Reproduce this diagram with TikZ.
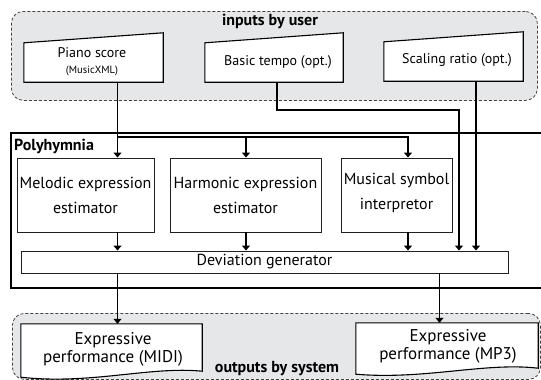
\documentclass[tikz,border=0pt]{standalone}
\usepackage{fontspec}
\setmainfont{PT Sans}
\usetikzlibrary{arrows.meta,calc}
\definecolor{zone}{RGB}{230,231,232}
\definecolor{ink}{RGB}{35,31,32}
\begin{document}
\begin{tikzpicture}[x=1pt,y=-1pt,
  zonebox/.style={draw=ink!85,fill=zone,dash pattern=on 3pt off 2pt,line width=0.8pt,rounded corners=12pt,inner sep=0pt},
  procbox/.style={draw=ink,line width=0.9pt,align=center,inner sep=0pt,font=\fontsize{16}{25}\selectfont},
  shapebox/.style={inner sep=0pt},
  inshape/.style={draw=black,fill=white,line width=1.1pt},
  intext/.style={inner sep=0pt,font=\fontsize{14}{16}\selectfont},
  smalltext/.style={inner sep=0pt,font=\fontsize{10.5}{11}\selectfont},
  outtext/.style={inner sep=0pt,align=center,font=\fontsize{17}{18}\selectfont},
  boldlbl/.style={inner sep=0pt,font=\bfseries\fontsize{16}{18}\selectfont},
  wire/.style={line width=1.1pt,draw=black},
  arr/.style={wire,-{Triangle[width=8pt,length=5pt]}},
]
\useasboundingbox (0,0) rectangle (541,380);

% column and turn coordinates
\coordinate (colA) at (117.5,0);
\coordinate (colB) at (246,0);
\coordinate (colC) at (408,0);
\coordinate (colT) at (277,0);
\coordinate (colD) at (459,0);
\coordinate (colE) at (476,0);
\coordinate (colF) at (439.5,0);
\coordinate (turn) at (0,110);
\coordinate (splitrow) at (0,137);

% input zone
\node[zonebox,anchor=north west,minimum width=526pt,minimum height=89pt] (inzone) at (11,11) {};
\node[boldlbl] (inlbl) at (270,21) {inputs by user};

% input shapes
\node[shapebox,minimum width=139pt,minimum height=49pt] (piano) at (93.5,57.5) {};
\draw[inshape] (piano.south west) -- ([yshift=-10pt]piano.north west) -- (piano.north east) -- (piano.south east) -- cycle;
\node[intext] (pianot) at (92,53) {Piano score};
\node[smalltext] (pianox) at (92,71) {(MusicXML)};

\node[shapebox,minimum width=138pt,minimum height=49pt] (basic) at (274,57.5) {};
\draw[inshape] (basic.south west) -- ([yshift=-10pt]basic.north west) -- (basic.north east) -- (basic.south east) -- cycle;
\node[intext] (basict) at (278,62) {Basic tempo (opt.)};

\node[shapebox,minimum width=139pt,minimum height=49pt] (scal) at (453.5,56.5) {};
\draw[inshape] (scal.south west) -- ([yshift=-10pt]scal.north west) -- (scal.north east) -- (scal.south east) -- cycle;
\node[intext] (scalt) at (457,60) {Scaling ratio (opt.)};

% Polyhymnia
\node[draw=black,line width=2pt,anchor=north west,minimum width=545pt,minimum height=155pt,inner sep=0pt] (poly) at (10,132) {};
\node[boldlbl,anchor=west] (polylbl) at (14,146) {Polyhymnia};

\node[procbox,minimum width=137pt,minimum height=74pt] (mel) at (85.5,195) {Melodic expression\\estimator};
\node[procbox,minimum width=151pt,minimum height=74pt] (har) at (245.5,195) {Harmonic expression\\estimator};
\node[procbox,minimum width=111pt,minimum height=74pt] (mus) at (396.5,195) {};
\node[inner sep=0pt,align=center,font=\fontsize{16}{25}\selectfont] (must) at (396.5,193) {Musical symbol\\interpretor};
\node[procbox,minimum width=487pt,minimum height=22pt] (dev) at (264.5,262) {Deviation generator};

% output zone
\node[zonebox,anchor=north west,minimum width=528pt,minimum height=66pt] (outzone) at (12,313) {};
\node[boldlbl] (outlbl) at (277,369) {outputs by system};

\node[shapebox,minimum width=181pt,minimum height=54pt] (midi) at (111.5,351) {};
\draw[inshape] (midi.north west) -- (midi.north east) -- ([yshift=7pt]midi.south east)
  .. controls (150,366) and (90,385) .. ([yshift=1pt]midi.south west) -- cycle;
\node[outtext] (midit) at (113,349) {Expressive\\performance (MIDI)};

\node[shapebox,minimum width=182pt,minimum height=51pt] (mp3) at (447,348.5) {};
\draw[inshape] (mp3.north west) -- (mp3.north east) -- ([yshift=6pt]mp3.south east)
  .. controls (485,362) and (425,380) .. (mp3.south west) -- cycle;
\node[outtext] (mp3t) at (448,346) {Expressive\\performance (MP3)};

% connectors
\draw[arr] (piano.south -| colA) -- (mel.north -| colA);
\draw[arr] (colA |- splitrow) -| (mus.north -| colC);
\draw[arr] (colB |- splitrow) -- (har.north -| colB);
\draw[arr] (basic.south -| colT) |- (colD |- turn) -- (dev.north -| colD);
\draw[arr] (scal.south -| colE) -- (dev.north -| colE);
\draw[arr] (mel.south -| colA) -- (dev.north -| colA);
\draw[arr] (har.south -| colB) -- (dev.north -| colB);
\draw[arr] (mus.south -| colC) -- (dev.north -| colC);
\draw[arr] (dev.south -| colA) -- (midi.north -| colA);
\draw[arr] (dev.south -| colF) -- (mp3.north -| colF);
\end{tikzpicture}
\end{document}
